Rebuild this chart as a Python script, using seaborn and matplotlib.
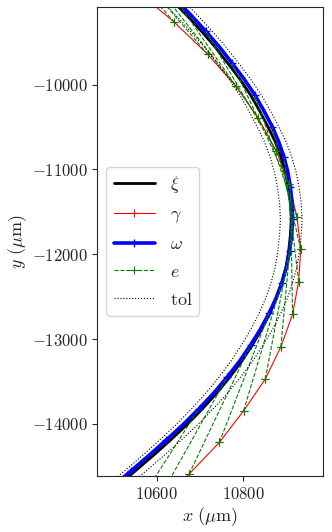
import pandas as pd
import seaborn as sns
import matplotlib
matplotlib.use("Agg")
import matplotlib.pyplot as plt
from matplotlib.lines import Line2D
from matplotlib.ticker import MultipleLocator, FuncFormatter

# heights along the reference curve (um); every second one is an omega sample
curve_y = [-7847, -8035, -8224, -8413, -8602, -8796, -8991, -9180, -9368, -9556,
           -9745, -9934, -10123, -10310, -10496, -10673, -10850, -11028, -11207, -11396,
           -11585, -11773, -11962, -12150, -12339, -12516, -12693, -12881, -13070, -13258,
           -13447, -13636, -13825, -14008, -14190, -14373, -14556, -14745, -14933, -15115,
           -15298]
xi_x = [10385, 10429, 10471, 10514, 10554, 10595, 10633, 10669, 10703, 10735,
        10764, 10792, 10817, 10838, 10857, 10874, 10887, 10897, 10904, 10909,
        10911, 10909, 10905, 10899, 10889, 10877, 10862, 10843, 10821, 10797,
        10769, 10739, 10705, 10670, 10632, 10592, 10550, 10507, 10462, 10417, 10370]
omega_x = [10395, 10439, 10481, 10524, 10564, 10605, 10643, 10679, 10713, 10745,
           10774, 10802, 10827, 10848, 10867, 10882, 10894, 10903, 10909, 10913,
           10914, 10912, 10907, 10900, 10889, 10876, 10860, 10840, 10817, 10792,
           10763, 10732, 10697, 10661, 10622, 10582, 10540, 10497, 10452, 10407, 10360]
tol_in_x = [10360, 10404, 10446, 10489, 10529, 10570, 10608, 10644, 10678, 10710,
            10739, 10767, 10792, 10813, 10832, 10849, 10862, 10872, 10879, 10884,
            10886, 10884, 10880, 10874, 10864, 10852, 10837, 10818, 10796, 10772,
            10744, 10714, 10680, 10645, 10607, 10567, 10525, 10482, 10437, 10392, 10345]
tol_out_x = [10410, 10454, 10496, 10539, 10579, 10620, 10658, 10694, 10728, 10760,
             10789, 10817, 10842, 10863, 10882, 10899, 10912, 10922, 10929, 10934,
             10936, 10934, 10930, 10924, 10914, 10902, 10887, 10868, 10846, 10822,
             10794, 10764, 10730, 10695, 10657, 10617, 10575, 10532, 10487, 10442, 10395]

# measured path gamma (um)
gamma_x = [10455, 10552, 10641, 10718, 10783, 10835, 10876, 10906, 10924, 10933,
           10928, 10914, 10887, 10851, 10801, 10745, 10675, 10596, 10508]
gamma_y = [-8507, -8885, -9265, -9643, -10017, -10397, -10779, -11172, -11557, -11942,
           -12324, -12708, -13090, -13471, -13845, -14217, -14591, -14968, -15334]

# gamma[k] is joined to omega sample k - e_lag by an error segment
e_lag = 2
omega_step = 2  # omega samples sit on every second curve point

sns.set_style("ticks")
plt.rcParams["font.family"] = ["serif"]
plt.rcParams["font.serif"] = ["DejaVu Serif"]
plt.rcParams["mathtext.fontset"] = "cm"

fig = plt.figure(figsize=(3.32, 5.32), dpi=100)
ax = fig.add_axes([0.2931, 0.1053, 0.6807, 0.8816])

sns.lineplot(x=xi_x, y=curve_y, sort=False, estimator=None, color="k", lw=2.0, ax=ax)
sns.lineplot(x=gamma_x, y=gamma_y, sort=False, estimator=None, color="r", lw=0.8,
             marker="+", ms=5.5, mew=0.8, mec="r", ax=ax)
sns.lineplot(x=omega_x, y=curve_y, sort=False, estimator=None, color="b", lw=2.6,
             marker="+", ms=5.5, mew=1.0, mec="b", markevery=omega_step, ax=ax)

# error segments
rows = []
for k in range(e_lag, len(gamma_x)):
    j = (k - e_lag) * omega_step
    rows.append({"seg": k, "x": gamma_x[k], "y": gamma_y[k]})
    rows.append({"seg": k, "x": omega_x[j], "y": curve_y[j]})
e_df = pd.DataFrame(rows)
sns.lineplot(data=e_df, x="x", y="y", units="seg", sort=False, estimator=None,
             color="g", lw=0.8, ls="--", marker="+", ms=5.5, mew=0.8, mec="g",
             markevery=[0], ax=ax)

sns.lineplot(x=tol_in_x, y=curve_y, sort=False, estimator=None, color="k", lw=0.8,
             ls=":", ax=ax)
sns.lineplot(x=tol_out_x, y=curve_y, sort=False, estimator=None, color="k", lw=0.8,
             ls=":", ax=ax)

ax.set_xlim(10463, 10985)
ax.set_ylim(-14613, -9085)
ax.xaxis.set_major_locator(MultipleLocator(200))
ax.yaxis.set_major_locator(MultipleLocator(1000))
fmt = FuncFormatter(lambda v, p: f"${v:.0f}$")
ax.xaxis.set_major_formatter(fmt)
ax.yaxis.set_major_formatter(fmt)
ax.tick_params(labelsize=12, length=3.5, width=0.8)
ax.set_xlabel(r"$x\ (\mu\mathrm{m})$", fontsize=13, labelpad=2)
ax.set_ylabel(r"$y\ (\mu\mathrm{m})$", fontsize=13, labelpad=2)
for s in ax.spines.values():
    s.set_linewidth(0.8)

handles = [
    Line2D([], [], color="k", lw=2.0),
    Line2D([], [], color="r", lw=0.8, marker="+", ms=5.5, mew=0.8),
    Line2D([], [], color="b", lw=2.6, marker="+", ms=5.5, mew=1.0),
    Line2D([], [], color="g", lw=0.8, ls="--", marker="+", ms=5.5, mew=0.8),
    Line2D([], [], color="k", lw=0.8, ls=":"),
]
labels = [r"$\xi$", r"$\gamma$", r"$\omega$", r"$e$", r"$\mathrm{tol}$"]
ax.legend(handles, labels, loc="center left", fontsize=13, labelspacing=0.55,
          handlelength=2.3, framealpha=0.8)

fig.savefig("out.png", dpi=100)
